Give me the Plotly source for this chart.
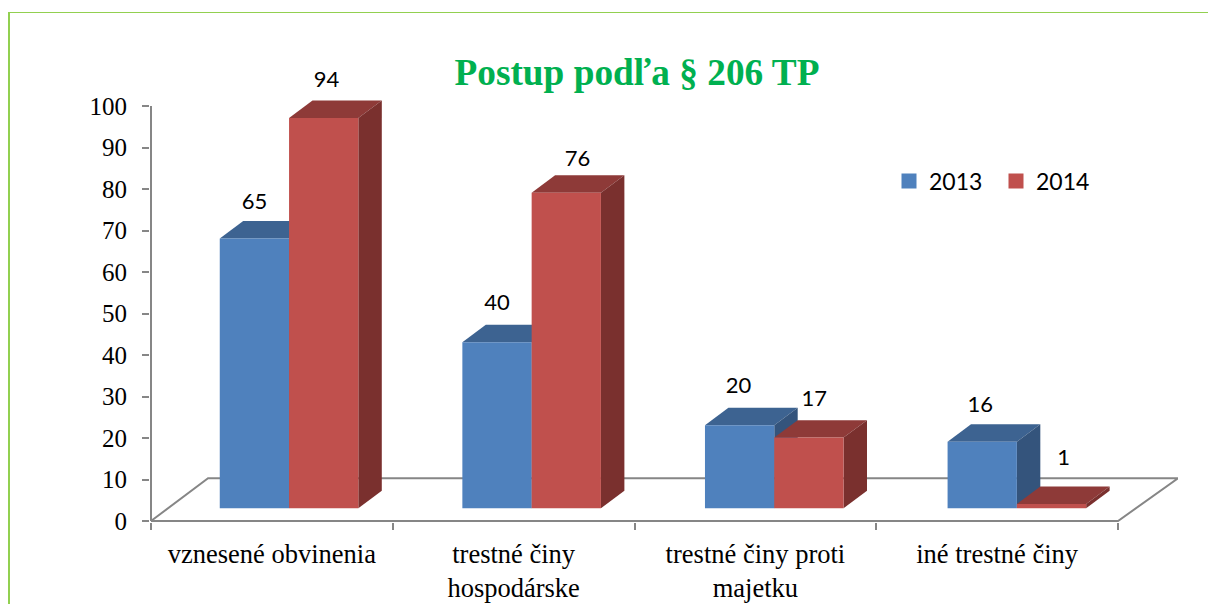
import plotly.graph_objects as go

categories = ["vznesené obvinenia", "trestné činy<br>hospodárske", "trestné činy proti<br>majetku", "iné trestné činy"]
years = ["2013", "2014"]
values_2013 = [65, 40, 20, 16]
values_2014 = [94, 76, 17, 1]
y_ticks = list(range(0, 101, 10))

# style / geometry (in axis units)
COL = {"2013": ("#4F81BD", "#3D6391", "#34547C"), "2014": ("#C0504D", "#8E3A38", "#7A302E")}
BAR_W = 0.2866
CENTER = 0.571
STEP = 1.0035
DX, DY = 0.097, 4.2
BASE = 3.1
FLOOR_DX, FLOOR_DY = 0.236, 10.3
XMIN, XMAX = -0.00414, 4.248
YMIN, YMAX = -0.24, 114.94
AXIS = "#868686"
# hand-placed label nudges: (x units, y units above top of front face)
LBL_2013 = [(0.0, 8.5), (0.0, 9.0), (-0.005, 9.0), (-0.008, 8.6)]
LBL_2014 = [(0.012, 8.9), (0.046, 7.8), (0.022, 9.0), (0.05, 10.7)]

fig = go.Figure()

def poly(xs, ys, color):
    fig.add_trace(go.Scatter(x=xs, y=ys, mode="lines", fill="toself", fillcolor=color,
                             line=dict(width=0, color=color), hoverinfo="skip",
                             showlegend=False, cliponaxis=False))

def line(xs, ys):
    fig.add_trace(go.Scatter(x=xs, y=ys, mode="lines", line=dict(width=2, color=AXIS),
                             hoverinfo="skip", showlegend=False, cliponaxis=False))

# floor and axis lines
line([0, FLOOR_DX, XMAX, 4, 0], [0, FLOOR_DY, FLOOR_DY, 0, 0])
line([0, 0], [0, 100])

# bars, painter's order
for i in range(len(categories)):
    for s, (yr, vals) in enumerate(zip(years, [values_2013, values_2014])):
        x0 = i * STEP + CENTER - BAR_W + s * BAR_W
        x1 = x0 + BAR_W
        top = BASE + vals[i]
        front, topc, side = COL[yr]
        poly([x0, x0 + DX, x1 + DX, x1, x0], [top, top + DY, top + DY, top, top], topc)
        poly([x1, x1 + DX, x1 + DX, x1, x1], [BASE, BASE + DY, top + DY, top, BASE], side)
        poly([x0, x1, x1, x0, x0], [BASE, BASE, top, top, BASE], front)

# data labels
for s, (yr, vals, off) in enumerate(zip(years, [values_2013, values_2014], [LBL_2013, LBL_2014])):
    fig.add_trace(go.Scatter(
        x=[i * STEP + CENTER - BAR_W / 2 + s * BAR_W + off[i][0] for i in range(len(vals))],
        y=[BASE + vals[i] + off[i][1] for i in range(len(vals))],
        mode="text", text=[str(v) for v in vals], textposition="middle center",
        textfont=dict(family="Lato", size=22, color="black"),
        showlegend=False, cliponaxis=False, hoverinfo="skip"))

# legend entries
for yr in years:
    fig.add_trace(go.Scatter(x=[None], y=[None], mode="markers", name=yr,
                             marker=dict(symbol="square", size=15, color=COL[yr][0])))

# green frame
W, H = 1208, 604
L, R, T, B = 150, 30, 44, 82
pw, ph = W - L - R, H - T - B
def px(v): return (v - L) / pw
def py(v): return (H - B - v) / ph
GREEN = "#92D050"
shapes = [
    dict(type="line", xref="paper", yref="paper", x0=px(9), x1=px(9), y0=py(12), y1=py(604),
         line=dict(color=GREEN, width=2)),
    dict(type="line", xref="paper", yref="paper", x0=px(8), x1=px(1208), y0=py(12.5), y1=py(12.5),
         line=dict(color=GREEN, width=1)),
]

fig.update_layout(
    width=W, height=H, autosize=False,
    margin=dict(l=L, r=R, t=T, b=B, autoexpand=False),
    paper_bgcolor="white", plot_bgcolor="white",
    shapes=shapes,
    title=dict(text="<b>Postup podľa § 206 TP</b>", x=637 / W, y=1 - 72 / H,
               xref="container", yref="container", xanchor="center", yanchor="middle",
               font=dict(family="Liberation Serif", size=37.3, color="#00B050")),
    legend=dict(orientation="h", x=px(889), y=py(181), xanchor="left", yanchor="middle",
                entrywidth=62, entrywidthmode="pixels",
                bgcolor="rgba(0,0,0,0)", font=dict(family="Lato", size=23, color="black")),
    xaxis=dict(range=[XMIN, XMAX], tickmode="array", tickvals=[i + 0.5 for i in range(4)],
               ticktext=categories, ticks="", showgrid=False, zeroline=False, showline=False,
               ticklabelstandoff=13, automargin=False,
               tickfont=dict(family="Liberation Serif", size=26.5, color="black"),
               minor=dict(tickmode="array", tickvals=[0, 1, 2, 3, 4], ticks="outside",
                          ticklen=7, tickwidth=2, tickcolor=AXIS, showgrid=False)),
    yaxis=dict(range=[YMIN, YMAX], tickmode="array", tickvals=y_ticks, ticks="outside",
               ticklen=7, tickwidth=2, tickcolor=AXIS, showgrid=False, zeroline=False,
               showline=False, ticklabelstandoff=10, automargin=False,
               tickfont=dict(family="Liberation Serif", size=25, color="black")),
)

fig.write_html("out.html", config={"displayModeBar": False},
               post_script="document.body.style.margin='0';")
